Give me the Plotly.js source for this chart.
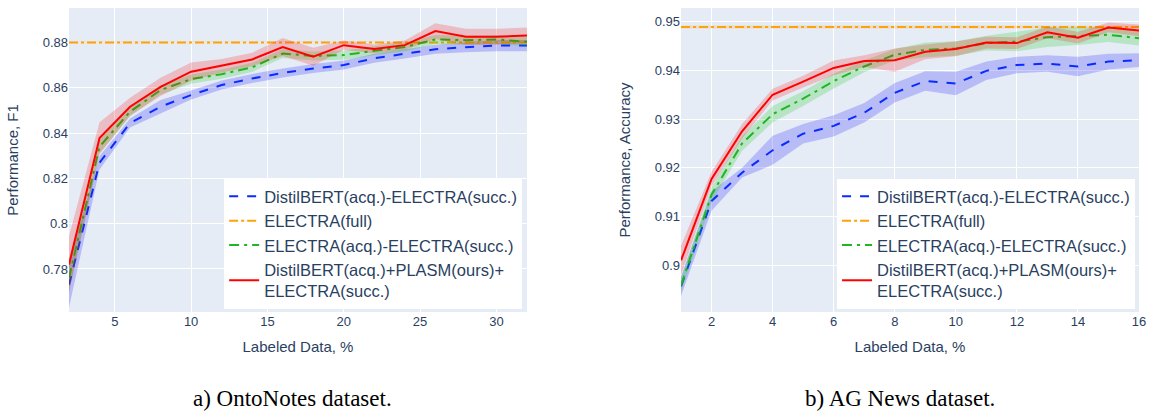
<!DOCTYPE html>
<html>
<head>
<meta charset="utf-8">
<script src="https://cdn.plot.ly/plotly-3.0.1.min.js"></script>
<style>html,body{margin:0;padding:0;background:#fff;}#chart{width:1149px;height:414px;}</style>
</head>
<body>
<div id="chart"></div>
<script>
// ---- Data: OntoNotes (left) ----
const xOnto = [2,4,6,8,10,12,14,16,18,20,22,24,26,28,30,32];
const ontoDistil    = [0.773,0.8269,0.8444,0.8516,0.8568,0.8612,0.8641,0.8665,0.8685,0.8700,0.8730,0.8749,0.8770,0.8779,0.8786,0.8786];
const ontoDistilStd = [0.010,0.003,0.002,0.003,0.002,0.002,0.002,0.002,0.002,0.002,0.002,0.002,0.002,0.0022,0.0025,0.0025];
const ontoElectraFull    = [0.88,0.88,0.88,0.88,0.88,0.88,0.88,0.88,0.88,0.88,0.88,0.88,0.88,0.88,0.88,0.88];
const ontoElectraFullStd = [0.0004,0.0004,0.0004,0.0004,0.0004,0.0004,0.0004,0.0004,0.0004,0.0004,0.0004,0.0004,0.0004,0.0004,0.0004,0.0004];
const ontoElectra    = [0.776,0.834,0.8494,0.859,0.8638,0.866,0.869,0.8751,0.874,0.8744,0.8763,0.878,0.8813,0.881,0.8813,0.8803];
const ontoElectraStd = [0.006,0.003,0.002,0.002,0.002,0.002,0.002,0.002,0.002,0.002,0.002,0.002,0.002,0.002,0.002,0.002];
const ontoPlasm    = [0.782,0.8378,0.8516,0.8604,0.8671,0.8697,0.8725,0.878,0.8737,0.8788,0.8771,0.8788,0.885,0.8825,0.8825,0.8831];
const ontoPlasmStd = [0.0125,0.007,0.004,0.004,0.004,0.003,0.003,0.004,0.004,0.002,0.002,0.002,0.0035,0.0035,0.0035,0.0035];

// ---- Data: AG News (right) ----
const xAg = [1,2,3,4,5,6,7,8,9,10,11,12,13,14,15,16];
const agDistil    = [0.8957,0.9132,0.919,0.9236,0.927,0.9286,0.9313,0.9354,0.9378,0.9373,0.9399,0.9411,0.9414,0.9408,0.9418,0.9421];
const agDistilStd = [0.002,0.002,0.001,0.003,0.002,0.0022,0.002,0.002,0.002,0.0024,0.0019,0.0017,0.0017,0.002,0.0016,0.0014];
const agElectraFull    = [0.9489,0.9489,0.9489,0.9489,0.9489,0.9489,0.9489,0.9489,0.9489,0.9489,0.9489,0.9489,0.9489,0.9489,0.9489,0.9489];
const agElectraFullStd = [0.0003,0.0003,0.0003,0.0003,0.0003,0.0003,0.0003,0.0003,0.0003,0.0003,0.0003,0.0003,0.0003,0.0003,0.0003,0.0003];
const agElectra    = [0.8959,0.9145,0.925,0.931,0.9342,0.9378,0.9408,0.9432,0.9442,0.9445,0.9456,0.9459,0.9468,0.947,0.9473,0.9466];
const agElectraStd = [0.0015,0.0015,0.0015,0.0017,0.0015,0.0015,0.0012,0.0012,0.0015,0.0015,0.0015,0.002,0.002,0.0018,0.0015,0.0015];
const agPlasm    = [0.901,0.9177,0.9275,0.935,0.9377,0.9405,0.9419,0.9421,0.9438,0.9444,0.9457,0.9456,0.9478,0.9467,0.9488,0.9482];
const agPlasmStd = [0.003,0.0015,0.0015,0.0012,0.0012,0.0015,0.0012,0.0024,0.0015,0.0015,0.0012,0.0012,0.0012,0.0012,0.001,0.0012];

const seriesNames = [
  "DistilBERT(acq.)-ELECTRA(succ.)",
  "ELECTRA(full)",
  "ELECTRA(acq.)-ELECTRA(succ.)",
  "DistilBERT(acq.)+PLASM(ours)+<br>ELECTRA(succ.)"
];
const lineColors = ["#0a2bff", "#ffa20a", "#22b522", "#ff0000"];
const fillColors = ["rgba(0,0,255,0.2)", "rgba(255,165,0,0.2)", "rgba(0,200,0,0.2)", "rgba(255,0,0,0.2)"];
const dashes = ["dash", "dashdot", "10px,5px,3px,5px", "solid"];

const traces = [];
function addPanel(x, means, stds, xa, ya, legendId) {
  means.forEach((m, i) => {
    const s = stds[i];
    const upper = m.map((v, k) => v + s[k]);
    const lower = m.map((v, k) => v - s[k]);
    traces.push({x: x, y: upper, xaxis: xa, yaxis: ya, mode: "lines", line: {width: 0, color: fillColors[i]},
      showlegend: false, hoverinfo: "skip", legend: legendId});
    traces.push({x: x, y: lower, xaxis: xa, yaxis: ya, mode: "lines", line: {width: 0, color: fillColors[i]},
      fill: "tonexty", fillcolor: fillColors[i], showlegend: false, hoverinfo: "skip", legend: legendId});
    traces.push({x: x, y: m, xaxis: xa, yaxis: ya, mode: "lines", name: seriesNames[i],
      line: {color: lineColors[i], width: 2, dash: dashes[i]}, legend: legendId});
  });
}
addPanel(xOnto, [ontoDistil, ontoElectraFull, ontoElectra, ontoPlasm],
  [ontoDistilStd, ontoElectraFullStd, ontoElectraStd, ontoPlasmStd], "x", "y", "legend");
addPanel(xAg, [agDistil, agElectraFull, agElectra, agPlasm],
  [agDistilStd, agElectraFullStd, agElectraStd, agPlasmStd], "x2", "y2", "legend2");

const fontFam = "Liberation Sans, Arial, sans-serif";
const axisCommon = {gridcolor: "white", linecolor: "white", zeroline: false, ticks: "",
  tickfont: {size: 13, color: "#2a3f5f", family: fontFam}, showline: false};
const legendCommon = {bgcolor: "white", font: {size: 16.5, color: "#2a3f5f", family: fontFam},
  xanchor: "right", yanchor: "bottom", tracegroupgap: 0, traceorder: "normal"};

const layout = {
  width: 1149, height: 414,
  margin: {l: 69, r: 10, t: 8, b: 102},
  paper_bgcolor: "white", plot_bgcolor: "#E5ECF6",
  font: {family: fontFam, color: "#2a3f5f"},
  xaxis: Object.assign({}, axisCommon, {domain: [0, 0.428], range: [2, 32], tickvals: [5,10,15,20,25,30],
    title: {text: "Labeled Data, %", standoff: 13, font: {size: 15, color: "#2a3f5f"}}, anchor: "y"}),
  yaxis: Object.assign({}, axisCommon, {range: [0.761, 0.8952], tickvals: [0.78,0.8,0.82,0.84,0.86,0.88],
    ticktext: ["0.78","0.8","0.82","0.84","0.86","0.88"],
    title: {text: "Performance, F1", standoff: 20, font: {size: 15, color: "#2a3f5f"}}, anchor: "x"}),
  xaxis2: Object.assign({}, axisCommon, {domain: [0.572, 1], range: [1, 16], tickvals: [2,4,6,8,10,12,14,16],
    title: {text: "Labeled Data, %", standoff: 13, font: {size: 15, color: "#2a3f5f"}}, anchor: "y2"}),
  yaxis2: Object.assign({}, axisCommon, {range: [0.8904, 0.9528], tickvals: [0.9,0.91,0.92,0.93,0.94,0.95],
    ticktext: ["0.9","0.91","0.92","0.93","0.94","0.95"],
    title: {text: "Performance, Accuracy", standoff: 20, font: {size: 15, color: "#2a3f5f"}}, anchor: "x2"}),
  legend: Object.assign({}, legendCommon, {x: 0.4235, y: 0.01}),
  legend2: Object.assign({}, legendCommon, {x: 0.9963, y: 0.01}),
  annotations: [
    {text: "a) OntoNotes dataset.", xref: "paper", yref: "paper", x: 0.2093, y: -0.286, xanchor: "center", yanchor: "middle",
     showarrow: false, font: {family: "Liberation Serif, Times New Roman, serif", size: 23, color: "black"}},
    {text: "b) AG News dataset.", xref: "paper", yref: "paper", x: 0.7766, y: -0.286, xanchor: "center", yanchor: "middle",
     showarrow: false, font: {family: "Liberation Serif, Times New Roman, serif", size: 23, color: "black"}}
  ]
};

Plotly.newPlot("chart", traces, layout, {displayModeBar: false, staticPlot: true});
</script>
</body>
</html>
